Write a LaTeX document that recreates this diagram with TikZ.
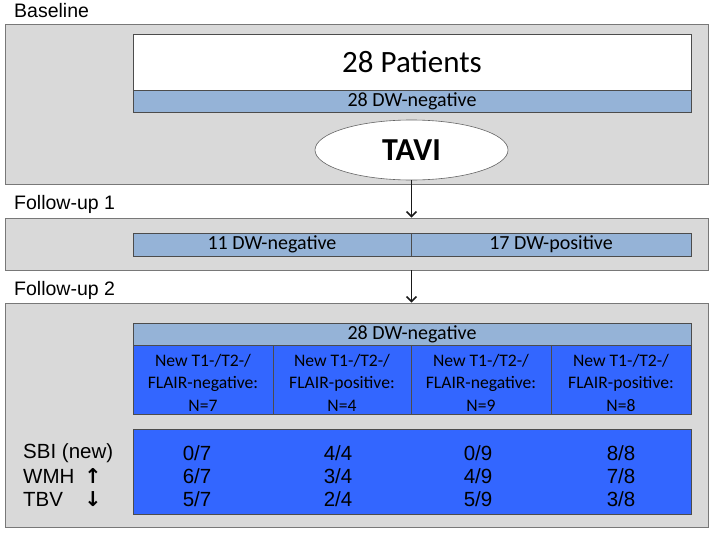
\documentclass[tikz,border=0pt]{standalone}
\usepackage{fontspec}
\setmainfont{Liberation Sans}
\newfontfamily\calfont{Carlito}
\newfontfamily\symfont{DejaVu Sans}
\usetikzlibrary{shapes.geometric,shadows,arrows.meta}
\definecolor{panelgray}{RGB}{217,217,217}
\definecolor{panelline}{RGB}{120,120,120}
\definecolor{lightblue}{RGB}{149,179,215}
\definecolor{darkblue}{RGB}{51,102,255}
\tikzset{
  panel/.style={draw=panelline, fill=panelgray, line width=0.8pt, inner sep=0pt,
    drop shadow={shadow xshift=1pt, shadow yshift=-1pt, opacity=0.35}},
  whitebox/.style={draw=black!70, fill=white, line width=0.6pt, inner sep=0pt,
    font=\calfont\fontsize{31}{36}\selectfont},
  lbar/.style={draw=black!70, fill=lightblue, line width=0.6pt, inner sep=0pt,
    font=\calfont\fontsize{20}{22}\selectfont},
  cell/.style={draw=black!70, fill=darkblue, line width=0.6pt, inner sep=0pt},
  celltext/.style={inner sep=0pt, align=center, font=\calfont\fontsize{17.6}{22.5}\selectfont},
  tavi/.style={ellipse, draw=black!60, fill=white, line width=0.6pt, inner sep=0pt,
    font=\calfont\bfseries\fontsize{32}{36}\selectfont},
  heading/.style={anchor=west, inner sep=0pt, font=\fontsize{19.5}{22}\selectfont},
  val/.style={inner sep=0pt, font=\fontsize{20.5}{22}\selectfont},
  flow/.style={-{Straight Barb[length=5pt,width=10pt,line width=1.5pt]}, line width=1.6pt, black!90},
}
\begin{document}
\begin{tikzpicture}[x=1pt,y=-1pt]
\useasboundingbox (0,0) rectangle (714,533);
% headings
\node[heading] (hb) at (14,11) {Baseline};
\node[heading] (hf1) at (14,204) {Follow-up 1};
\node[heading] (hf2) at (14,290) {Follow-up 2};
% panels
\node[panel, minimum width=703pt, minimum height=160pt] (p1) at (356.5,104) {};
\node[panel, minimum width=703pt, minimum height=52pt] (p2) at (356.5,244) {};
\node[panel, minimum width=703pt, minimum height=224pt] (p3) at (356.5,415) {};
% baseline
\node[whitebox, minimum width=558pt, minimum height=56pt] (pat) at (412,62) {28 Patients};
\node[lbar, minimum width=558pt, minimum height=22pt] (b0) at (412,101) {28 DW-negative};
\node[tavi, minimum width=193pt, minimum height=60pt] (tv) at (411.5,150) {TAVI};
% follow-up 1
\node[lbar, minimum width=278pt, minimum height=23pt] (neg1) at (272,244.5) {11 DW-negative};
\node[lbar, minimum width=280pt, minimum height=23pt] (pos1) at (551,244.5) {17 DW-positive};
% follow-up 2
\node[lbar, minimum width=558pt, minimum height=22pt] (b2) at (412,334) {28 DW-negative};
\node[cell, minimum width=140pt, minimum height=69pt] (c1) at (203,379.5) {};
\node[cell, minimum width=138pt, minimum height=69pt] (c2) at (342,379.5) {};
\node[cell, minimum width=140pt, minimum height=69pt] (c3) at (481,379.5) {};
\node[cell, minimum width=140pt, minimum height=69pt] (c4) at (621,379.5) {};
\node[celltext] (t1) at ([yshift=-3pt]c1.center) {New T1-/T2-/\\FLAIR-negative:\\N=7};
\node[celltext] (t2) at ([yshift=-3pt]c2.center) {New T1-/T2-/\\FLAIR-positive:\\N=4};
\node[celltext] (t3) at ([yshift=-3pt]c3.center) {New T1-/T2-/\\FLAIR-negative:\\N=9};
\node[celltext] (t4) at ([yshift=-3pt]c4.center) {New T1-/T2-/\\FLAIR-positive:\\N=8};
\node[cell, minimum width=558pt, minimum height=85pt] (res) at (412,471.5) {};
% row labels
\node[val, anchor=west] (l1) at (23,453) {SBI (new)};
\node[val, anchor=west] (l2) at (23,476) {WMH};
\node[val, anchor=west] (l3) at (23,499) {TBV};
\node[val] (a2) at (93,476) {\symfont\bfseries ↑};
\node[val] (a3) at (93,499) {\symfont\bfseries ↓};
% values
\node[val] (v11) at (197,453) {0/7};
\node[val] (v12) at (197,476) {6/7};
\node[val] (v13) at (197,499) {5/7};
\node[val] (v21) at (338,453) {4/4};
\node[val] (v22) at (338,476) {3/4};
\node[val] (v23) at (338,499) {2/4};
\node[val] (v31) at (478,453) {0/9};
\node[val] (v32) at (478,476) {4/9};
\node[val] (v33) at (478,499) {5/9};
\node[val] (v41) at (621,453) {8/8};
\node[val] (v42) at (621,476) {7/8};
\node[val] (v43) at (621,499) {3/8};
% connectors
\draw[flow] (tv.south) -- (tv.south |- p2.north);
\draw[flow] (p2.south -| tv.south) -- (p3.north -| tv.south);
\end{tikzpicture}
\end{document}
